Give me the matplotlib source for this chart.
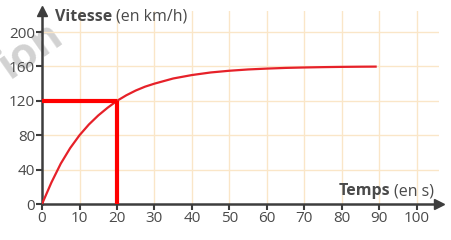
import matplotlib
matplotlib.use("Agg")
import matplotlib.pyplot as plt

plt.rcParams['font.family'] = ['Open Sans', 'DejaVu Sans']

# speed curve (time in s, speed in km/h)
temps = [0, 2.5, 5, 7.5, 10, 12.5, 15, 17.5, 20, 22.5, 25, 27.5, 30, 35, 40, 45,
         50, 55, 60, 65, 70, 75, 80, 85, 89]
vitesse = [0, 25, 47, 65, 80, 92.5, 103, 112, 120, 126.5, 132, 136.5, 140, 146,
           150, 153, 155, 156.5, 157.5, 158.3, 158.8, 159.2, 159.5, 159.7, 159.8]

# marked reading point
t_mark = 20
v_mark = 120

x_ticks = list(range(0, 101, 10))
y_ticks = list(range(0, 201, 40))

axis_col = '#3d3d3d'
text_col = '#4a4a4a'
grid_col = '#fae6c8'

fig = plt.figure(figsize=(4.52, 2.40), dpi=100)
ax = fig.add_axes([0.093, 0.15, 0.879, 0.806])
ax.patch.set_alpha(0)
ax.set_xlim(0, 106)
ax.set_ylim(0, 225)

# grid
for x in x_ticks[1:]:
    ax.axvline(x, color=grid_col, lw=1, zorder=0)
for y in y_ticks[1:]:
    ax.axhline(y, color=grid_col, lw=1, zorder=0)

# curve and reading lines
ax.plot(temps, vitesse, color='#e62129', lw=1.6, zorder=3)
ax.plot([0, t_mark], [v_mark, v_mark], color='#ff0000', lw=3, zorder=4, solid_capstyle='butt')
ax.plot([t_mark, t_mark], [0, v_mark], color='#ff0000', lw=3, zorder=4, solid_capstyle='butt')

# axes with arrows
for s in ['top', 'right']:
    ax.spines[s].set_visible(False)
for s in ['left', 'bottom']:
    ax.spines[s].set_color(axis_col)
    ax.spines[s].set_linewidth(1.8)
ax.plot(106, 0, marker='>', color=axis_col, ms=7, clip_on=False, zorder=5)
ax.plot(0, 225, marker='^', color=axis_col, ms=7, clip_on=False, zorder=5)

ax.set_xticks(x_ticks)
ax.set_yticks(y_ticks)
ax.tick_params(colors=axis_col, labelcolor=text_col, labelsize=11, width=1.5,
               length=4, pad=1)

# axis titles: bold word + regular unit
fig.canvas.draw()
r = fig.canvas.get_renderer()
t1 = ax.text(3.5, 213, "Vitesse", fontsize=11.5, fontweight='bold', color=text_col,
             va='baseline')
bb = t1.get_window_extent(r).transformed(ax.transData.inverted())
ax.text(bb.x1 + 1, 213, "(en km/h)", fontsize=11.5, color=text_col, va='baseline')

t2 = ax.text(79, 10, "Temps", fontsize=11.5, fontweight='bold', color=text_col,
             va='baseline')
bb = t2.get_window_extent(r).transformed(ax.transData.inverted())
ax.text(bb.x1 + 1, 10, "(en s)", fontsize=11.5, color=text_col, va='baseline')

# faint watermark behind everything
fig.text(-0.02, 0.68, "ion", fontsize=31, fontweight='bold', color='#d2d2d2',
         rotation=35, zorder=-1)

fig.savefig("out.png", dpi=100)
